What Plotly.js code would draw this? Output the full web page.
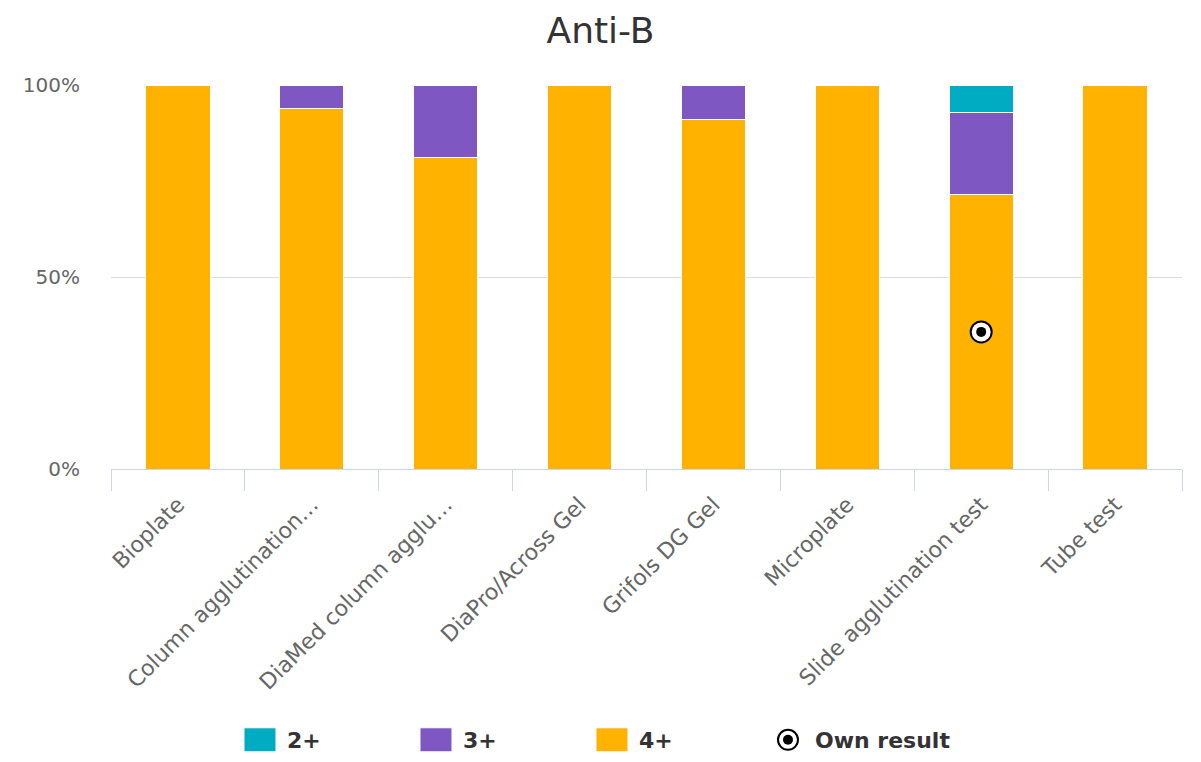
<!DOCTYPE html>
<html>
<head>
<meta charset="utf-8">
<script src="https://cdn.plot.ly/plotly-3.0.1.min.js"></script>
<style>
html, body { margin: 0; padding: 0; background: #ffffff; }
#chart { width: 1201px; height: 762px; }
</style>
</head>
<body>
<div id="chart"></div>
<script>
// ---- data ----
var categories = [
  "Bioplate",
  "Column agglutination…",
  "DiaMed column agglu…",
  "DiaPro/Across Gel",
  "Grifols DG Gel",
  "Microplate",
  "Slide agglutination test",
  "Tube test"
];
var share2plus = [0, 0, 0, 0, 0, 0, 7.1, 0];
var share3plus = [0, 6, 19, 0, 9, 0, 21.5, 0];
var share4plus = [100, 94, 81, 100, 91, 100, 71.4, 100];
var ownResultCategory = ["Slide agglutination test"];
var ownResultValue = [35.7];
var yTickValues = [0, 50, 100];
var yTickLabels = ["0%", "50%", "100%"];

// ---- styling ----
var FONT = "DejaVu Sans, Verdana, sans-serif";
var COL2 = "#00acc1", COL3 = "#7e57c2", COL4 = "#ffb300";

function barTrace(name, values, color, rank) {
  return {
    type: "bar", name: name, x: categories, y: values,
    marker: { color: color, line: { color: "#ffffff", width: 1 } },
    legendrank: rank, hoverinfo: "x+y+name"
  };
}

var traces = [
  barTrace("4+", share4plus, COL4, 3),
  barTrace("3+", share3plus, COL3, 2),
  barTrace("2+", share2plus, COL2, 1),
  {
    type: "scatter", mode: "markers", name: "Own result",
    x: ownResultCategory, y: ownResultValue, legendrank: 4, legendwidth: 170,
    marker: { symbol: "circle", size: 21, color: "#ffffff", line: { color: "#000000", width: 2 } }
  },
  {
    type: "scatter", mode: "markers", name: "Own result", showlegend: false,
    x: ownResultCategory, y: ownResultValue, hoverinfo: "skip",
    marker: { symbol: "circle", size: 10, color: "#000000" }
  }
];

var layout = {
  width: 1201, height: 762,
  margin: { l: 111, r: 19, t: 85, b: 293, pad: 0, autoexpand: false },
  paper_bgcolor: "#ffffff", plot_bgcolor: "#ffffff",
  font: { family: FONT, color: "#666666" },
  title: {
    text: "Anti-B", x: 0.5, xanchor: "center", xref: "container",
    y: 1 - 30 / 762, yanchor: "middle", yref: "container",
    font: { family: FONT, size: 36, color: "#333333" }
  },
  barmode: "stack",
  bargap: 0.52,
  showlegend: true,
  legend: {
    orientation: "h", traceorder: "normal",
    x: 0.1139, xanchor: "left", y: -0.7057, yanchor: "middle",
    font: { family: FONT, size: 22, color: "#333333", weight: "bold" },
    itemwidth: 44, entrywidth: 117, entrywidthmode: "pixels",
    itemclick: false, itemdoubleclick: false
  },
  xaxis: {
    type: "category", categoryarray: categories, categoryorder: "array",
    automargin: false, showgrid: false, zeroline: false,
    showline: true, linecolor: "#ccd6eb", linewidth: 1,
    ticks: "outside", tickson: "boundaries", ticklen: 21, tickcolor: "#ccd6eb", tickwidth: 1,
    tickangle: -45, ticklabelstandoff: 13,
    tickfont: { family: FONT, size: 22, color: "#666666" }
  },
  yaxis: {
    range: [0, 100], automargin: false,
    tickvals: yTickValues, ticktext: yTickLabels,
    showgrid: true, gridcolor: "#dedede", gridwidth: 1,
    zeroline: false, showline: false, ticks: "",
    ticklabelstandoff: 30,
    tickfont: { family: FONT, size: 20, color: "#666666" }
  }
};

Plotly.newPlot("chart", traces, layout, { displayModeBar: false, staticPlot: true }).then(function (gd) {
  // enlarge legend swatches to match the reference's rectangular keys
  var bars = gd.querySelectorAll(".legend .legendpoints path");
  bars.forEach(function (p) {
    var d = p.getAttribute("d") || "";
    if (d.indexOf("M6,6H-6V-6H6Z") === 0) {
      p.setAttribute("d", "M16,12H-16V-12H16Z");
    }
  });
  // enlarge the "Own result" legend marker and add its black centre dot
  var items = gd.querySelectorAll(".legend .traces");
  items.forEach(function (g) {
    var t = g.querySelector("text.legendtext");
    if (t && t.textContent === "Own result") {
      var pt = g.querySelector(".legendpoints path.scatterpts");
      if (pt) {
        pt.setAttribute("d", "M10,0A10,10 0 1,1 0,-10A10,10 0 0,1 10,0Z");
        var c = document.createElementNS("http://www.w3.org/2000/svg", "circle");
        c.setAttribute("r", "5");
        c.setAttribute("fill", "#000000");
        if (pt.getAttribute("transform")) c.setAttribute("transform", pt.getAttribute("transform"));
        pt.parentNode.appendChild(c);
      }
    }
  });
});
</script>
</body>
</html>
